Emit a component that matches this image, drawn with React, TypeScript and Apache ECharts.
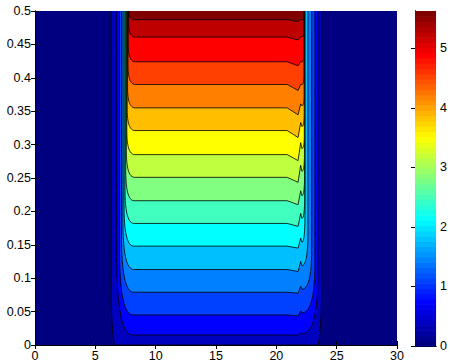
import React, { useEffect, useRef } from "react";
import * as echarts from "echarts";

// ---- axis ticks ----
const xTicks = [0, 5, 10, 15, 20, 25, 30];
const yTicks = [0, 0.05, 0.1, 0.15, 0.2, 0.25, 0.3, 0.35, 0.4, 0.45, 0.5];
const colorbarTicks = [0, 1, 2, 3, 4, 5];
const colorbarMax = 5.63;

// ---- contour levels (z values) and the shape of each contour line ----
const levels = [0.35, 0.7, 1.05, 1.4, 1.75, 2.1, 2.45, 2.8, 3.15, 3.5, 3.85, 4.2, 4.55, 4.9, 5.25, 5.6];
// height (y) of each level on the plateau
const levelY = [-0.05, 0.015, 0.045, 0.079, 0.113, 0.148, 0.182, 0.216, 0.251, 0.285, 0.321, 0.355, 0.39, 0.424, 0.461, 0.487];
// left wall x of each level
const leftX = [6.3, 6.77, 7.0, 7.17, 7.29, 7.38, 7.46, 7.52, 7.57, 7.61, 7.64, 7.67, 7.71, 7.73, 7.76, 7.79];
const leftBendW = [1.6, 1.3, 1.1, 1.0, 0.9, 0.8, 0.75, 0.7, 0.68, 0.66, 0.64, 0.62, 0.6, 0.58, 0.55, 0.5];
const leftBendH = [0.14, 0.12, 0.1, 0.085, 0.07, 0.06, 0.05, 0.045, 0.04, 0.035, 0.032, 0.03, 0.028, 0.025, 0.02, 0.01];
// right wall x of each level
const rightX = [23.76, 23.45, 23.2, 22.93, 22.62, 22.37, 22.35, 22.34, 22.33, 22.32, 22.31, 22.3, 22.29, 22.28, 22.27, 22.26];
const rightBendH = [0.14, 0.09, 0.075, 0.06, 0.05, 0.04, 0.035, 0.03, 0.025, 0.02, 0.02, 0.015, 0.015, 0.012, 0.01, 0.008];
// dip / spike near the right wall
const dipDepth = [0, 0, 0.0015, 0.0015, 0.003, 0.003, 0.0045, 0.006, 0.0075, 0.009, 0.0105, 0.0105, 0.009, 0.006, 0.0045, 0.003];
const spikeHeight = [0, 0.003, 0.006, 0.009, 0.012, 0.012, 0.015, 0.015, 0.018, 0.018, 0.012, 0.006, 0, 0, 0, 0];

const colorbarSteps = 64;

function jet(t: number): string {
  const c = (v: number) => Math.round(255 * Math.max(0, Math.min(1, v)));
  const r = c(Math.min(4 * t - 1.5, -4 * t + 4.5));
  const g = c(Math.min(4 * t - 0.5, -4 * t + 3.5));
  const b = c(Math.min(4 * t + 0.5, -4 * t + 2.5));
  return `rgb(${r},${g},${b})`;
}

function quad(p0: number[], c: number[], p1: number[], n: number): number[][] {
  const out: number[][] = [];
  for (let j = 1; j <= n; j++) {
    const t = j / n;
    const a = (1 - t) * (1 - t), b = 2 * (1 - t) * t, d = t * t;
    out.push([a * p0[0] + b * c[0] + d * p1[0], a * p0[1] + b * c[1] + d * p1[1]]);
  }
  return out;
}

function contourPoints(i: number): number[][] {
  const yk = levelY[i];
  const xl = leftX[i];
  const pts: number[][] = [];
  pts.push([xl, 0.5]);
  const lStart = [xl, yk + leftBendH[i]];
  pts.push(lStart);
  pts.push(...quad(lStart, [xl, yk], [xl + leftBendW[i], yk], 12));
  pts.push([20.9, yk]);
  pts.push([21.45, yk - dipDepth[i] * 0.6]);
  pts.push([21.8, yk - dipDepth[i]]);
  pts.push([22.02, yk + spikeHeight[i]]);
  const rs = [22.12, yk + spikeHeight[i] * 0.5];
  pts.push(rs);
  const xr = rightX[i];
  pts.push(...quad(rs, [xr, rs[1]], [xr, rs[1] + rightBendH[i]], 12));
  pts.push([xr, 0.5]);
  return pts.map((p) => [p[0], Math.max(0, Math.min(0.5, p[1]))]);
}

const FONT = "'Liberation Sans', Arial, Helvetica, sans-serif";

export default function App() {
  const ref = useRef<HTMLDivElement>(null);
  useEffect(() => {
    if (!ref.current) return;
    const chart = echarts.init(ref.current, null, { renderer: "svg" });
    const axisLine = { show: true, lineStyle: { color: "#000", width: 1 } };
    const tick = { show: true, inside: true, length: 4, lineStyle: { color: "#000", width: 1 } };
    const label = { color: "#000", fontSize: 12.5, fontFamily: FONT };
    const option: any = {
      animation: false,
      backgroundColor: "#fff",
      grid: [
        { left: 35, top: 11, width: 362, height: 335, show: true, backgroundColor: jet(0), borderWidth: 0 },
        { left: 415, top: 11, width: 25, height: 335, show: false },
      ],
      xAxis: [
        {
          gridIndex: 0, type: "value", min: xTicks[0], max: xTicks[xTicks.length - 1], interval: 5,
          position: "bottom", axisLine, axisTick: tick, splitLine: { show: false },
          axisLabel: { ...label, margin: 4 },
        },
        {
          gridIndex: 0, type: "value", min: xTicks[0], max: xTicks[xTicks.length - 1], interval: 5,
          position: "top", axisLine, axisTick: tick, splitLine: { show: false }, axisLabel: { show: false },
        },
        {
          gridIndex: 1, type: "value", min: 0, max: 1, position: "bottom", axisLine,
          axisTick: { show: false }, axisLabel: { show: false }, splitLine: { show: false },
        },
        {
          gridIndex: 1, type: "value", min: 0, max: 1, position: "top", axisLine,
          axisTick: { show: false }, axisLabel: { show: false }, splitLine: { show: false },
        },
      ],
      yAxis: [
        {
          gridIndex: 0, type: "value", min: yTicks[0], max: yTicks[yTicks.length - 1], interval: 0.05,
          position: "left", axisLine, axisTick: tick, splitLine: { show: false },
          axisLabel: { ...label, margin: 4 },
        },
        {
          gridIndex: 0, type: "value", min: yTicks[0], max: yTicks[yTicks.length - 1], interval: 0.05,
          position: "right", axisLine, axisTick: tick, splitLine: { show: false }, axisLabel: { show: false },
        },
        {
          gridIndex: 1, type: "value", min: colorbarTicks[0], max: colorbarMax, interval: 1,
          position: "left", axisLine, axisTick: tick, splitLine: { show: false }, axisLabel: { show: false },
        },
        {
          gridIndex: 1, type: "value", min: colorbarTicks[0], max: colorbarMax, interval: 1,
          position: "right", axisLine, axisTick: tick, splitLine: { show: false },
          axisLabel: { ...label, margin: 4, showMaxLabel: false },
        },
      ],
      series: [
        {
          type: "custom",
          name: "contours",
          xAxisIndex: 0,
          yAxisIndex: 0,
          z: 2,
          data: levels.map((v, i) => [i, v]),
          encode: { x: -1, y: -1 },
          renderItem: (params: any, api: any) => {
            const i = params.dataIndex;
            const pts = contourPoints(i).map((p) => api.coord(p));
            return {
              type: "group",
              children: [
                { type: "polygon", shape: { points: pts }, style: { fill: jet((i + 1) / 16), stroke: null } },
                { type: "polyline", shape: { points: pts }, style: { fill: null, stroke: "#000", lineWidth: 0.8 } },
              ],
            };
          },
        },
        {
          type: "custom",
          name: "colorbar",
          xAxisIndex: 2,
          yAxisIndex: 2,
          z: 2,
          data: Array.from({ length: colorbarSteps }, (_, k) => [k]),
          encode: { x: -1, y: -1 },
          renderItem: (params: any, api: any) => {
            const k = params.dataIndex;
            const lo = (k / colorbarSteps) * colorbarMax;
            const hi = ((k + 1) / colorbarSteps) * colorbarMax;
            const p0 = api.coord([0, lo]);
            const p1 = api.coord([1, hi]);
            return {
              type: "rect",
              shape: { x: p0[0], y: p1[1], width: p1[0] - p0[0], height: p0[1] - p1[1] + 0.6 },
              style: { fill: jet(k / (colorbarSteps - 1)) },
            };
          },
        },
      ],
    };
    chart.setOption(option);
    return () => chart.dispose();
  }, []);
  return (
    <div
      ref={ref}
      style={{ position: "fixed", left: 0, top: 0, width: 450, height: 362 }}
    />
  );
}
